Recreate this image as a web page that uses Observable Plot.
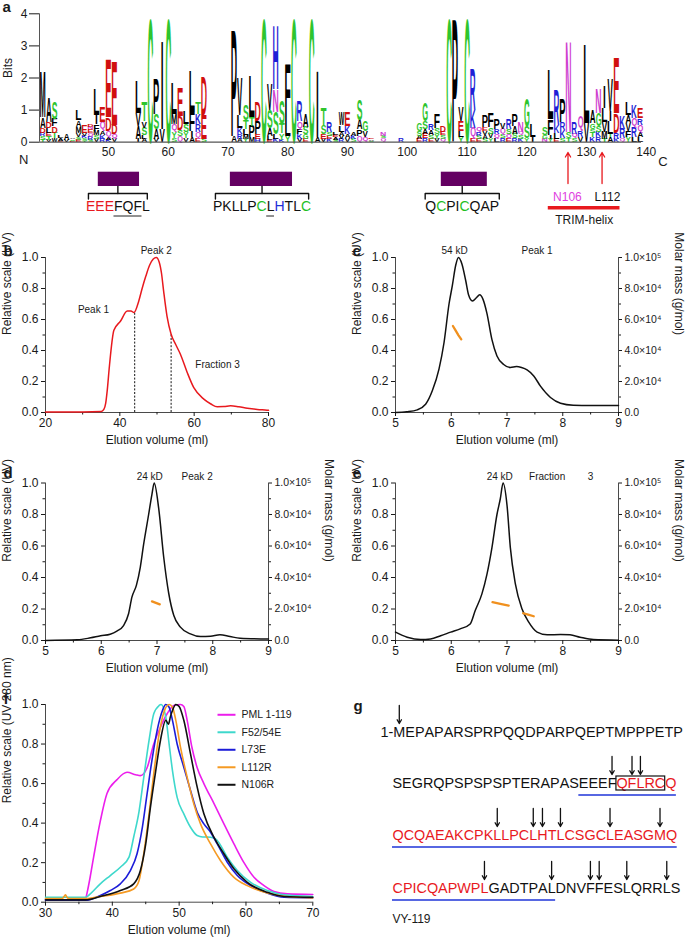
<!DOCTYPE html>
<html><head><meta charset="utf-8">
<script src="https://cdn.jsdelivr.net/npm/d3@7"></script>
<script src="https://cdn.jsdelivr.net/npm/@observablehq/plot@0.6"></script>
<style>
html,body{margin:0;padding:0;background:#fff;}
#fig{position:relative;width:685px;height:941px;overflow:hidden;background:#fff;}
</style></head>
<body><div id="fig"></div>
<script>
// ====================== DATA ======================
// --- Panel a: sequence logo (position, stack bottom->top "Letter+bits") ---
const logoTicks = [50, 60, 70, 80, 90, 100, 110, 120, 130, 140];
const logoPositions = [39,40,41,42,43,44,45,46,47,48,49,50,51,55,56,57,58,59,60,61,62,63,64,65,66,71,72,73,74,75,76,77,78,79,80,81,82,83,84,85,86,87,88,89,90,91,92,93,94,96,99,102,103,104,105,106,107,108,109,110,111,112,113,114,115,116,117,118,119,120,121,123,124,125,126,127,128,129,130,131,132,133,134,135,136,137,138,139];
const logoStacks = [
"T.08 S.1 R.12 D.15 A.32 M1.4","V.08 T.1 E.1 L.15 D.2 A.77","W.12 T.18 D.2 F.23 S.52","E.05 A.08 L.07","V.06 A.2","E.05 S.05 A.05",
"E.08 S.08 V.12 M.2 A.2 L.32","T.05 S.07 K.08 V.08 E.24","S.08 R.1 Q.12 E.1 N.08 D.09","V.1 S.12 M.14 F.2 I.3 L.8","R.1 K.12 A.12 Q.3 E.5",
"K.08 A.08 Q.2 D.41 E1.8","V.1 Q.15 D.3 E2.0","I.1 A.4 V.4 L1.02","A.1 L.12 S.23 V.2 T.6","C3.85","V.1 A.3 S.47 P1.1","V.4 I2.77","C3.85",
"S.12 Y.2 Q.25 M.3 L.95","Q.18 S.2 D.45 E.88","V.12 Y.2 S.25 L.42","A.15 I.2 F.6 L1.28","E.12 Q.2 R.25 K.3 T.38","S.1 E.75 D1.23",
"A.18 P3.3","A.1 R.15 K.2 L.4 V1.18","Y.1 M.12 L.2 T.28 S.5","M.15 P.35 T.28 L1.3","H.1 E.15 P.4 D.6","C3.85","E.08 L.12 A.25 S.55 V.8",
"K.1 L.15 S.7 N.7 H1.98","K.08 Y.2 T.3 S.72","Y.2 L.6 F1.64","C3.85","V.1 K.15 F.15 Q.25 R.65","E.1 G.15 S.23 A.4","C3.85","A.15 I2.08",
"V.1 E.15 S.27 T.55","K.1 E.1 S.12 R.3","S.08 A.08 E.07 L.08","R.1 V.1 A.13 L.2 W.4","V.12 A.13 K.25 E.43","S.1 K.1 A.1","Q.2 P.2 A.3 S.65",
"Q.15 V.2 G.33","S.05 A.05 E.05","Q.12 S.08 N.1","R.12","E.1 A.1 S.15 G.22","R.12 E.15 A.15 S.23 G.55","E.1 S.12 A.15 R.2","V.1 Y.15 S.2 F.43",
"Q.1 S.12 E.1 D.2","C3.85","P3.85","Y.15 L.2 E.3 V.45","C3.85","E.1 Q.35 K.55 R1.28","E.1 S.1 R.1 Q.17","S.1 A.12 V.12 E.12 P.37",
"Y.12 V.15 S.2 F.46","L.1 Q.15 R.15 P.33","R.12 S.12 Q.18 V.2","E.1 Q.15 S.15 R.33","R.12 S.15 A.25 P.36","K.1 S.12 Q.1 N.3","Y.12 S.35 G.88",
"I.17 L.4","N.1 G.12 S.25","Y.1 I.13 F.5 L1.55","E.1 L.18 K.25 R1.1","S.12 K.25 R.25 P.73","T.12 S.2 N2.85","S.12 Q.15 R.35","V.15 R.2 Q.48",
"V.6 L2.46","K.15 T.15 S.12 G.17 A.4","R.15 K.18 S.18 G.4 N.75","T.1 M.22 V.3 L.45 I.7","A.15 T.12 L.4 I.3 V1.0","K.1 R.2 D.6 E1.75",
"Q.12 R.3 K.41","Y.15 F.2 V.25 A.25 L.4","L.15 R.3 Q.3 K.4","L.15 A.15 Q.25 R.2 E.3"];
const purpleBoxStart = [48.3, 70.4, 105.7];
const purpleBoxEnd = [55.2, 80.8, 113.4];
const bracketStart = [46.65, 67.9, 103.0];
const bracketEnd = [56.5, 83.5, 115.4];
const motifSeqs = ["EEEFQFL", "PKLLPCLHTLC", "QCPICQAP"];
const motifColorCodes = ["rrrkkkk", "kkkkkgkbkkg", "kgkkgkkk"];
const motifUnderlined = ["0001110", "00000010000", "00000000"];
const helixArrowPos = [126.9, 132.6];
const helixLabels = ["N106", "L112"];
const helixLabelPos = [126.8, 133.5];
const helixLabelColors = ["#e040e0", "#111"];
const trimHelixSpan = [123.6, 135.6];
const terminiLabels = ["N", "C"];
const terminiPos = [35.8, 142.8];

// --- Panel b ---
const bX = [20,25,30,35,35.7,36.2,36.6,37.2,38.4,40.2,42,43,43.8,45.1,46,47,48,49,49.8,50.6,51.2,51.8,52.7,53.8,55,56.3,58.1,59.9,62.6,64.5,66.2,68,69.8,72,74.3,77,79.6,80];
const bY = [0.003,0.003,0.003,0.006,0.02,0.06,0.14,0.3,0.53,0.59,0.655,0.655,0.645,0.72,0.8,0.88,0.95,0.99,1.0,0.97,0.9,0.78,0.62,0.505,0.44,0.376,0.26,0.16,0.086,0.055,0.037,0.038,0.043,0.037,0.028,0.02,0.015,0.014];
const bCutX = [44.0, 53.8];
const bCutY = [0.645, 0.505];
const bNoteX = [49.8, 32.9, 66.3], bNoteY = [1.045, 0.665, 0.31], bNoteText = ["Peak 2", "Peak 1", "Fraction 3"];

// --- Panel c ---
const cX = [5,5.2,5.39,5.54,5.66,5.78,5.87,5.96,6.02,6.08,6.13,6.19,6.26,6.31,6.38,6.45,6.51,6.57,6.64,6.73,6.82,6.94,7.06,7.17,7.26,7.36,7.48,7.6,7.78,7.96,8.19,8.5,9];
const cY = [0,0.005,0.017,0.053,0.14,0.28,0.45,0.7,0.82,0.95,1.0,0.96,0.85,0.76,0.72,0.74,0.76,0.73,0.64,0.47,0.365,0.31,0.29,0.296,0.29,0.275,0.236,0.17,0.097,0.06,0.047,0.045,0.045];
const cMassX = [6.03, 6.08, 6.13, 6.18], cMassY = [55800, 52800, 49800, 47200], cMassSeg = [1,1,1,1];
const cNoteX = [6.06, 7.54], cNoteY = [1.045, 1.045], cNoteText = ["54 kD", "Peak 1"];

// --- Panel d ---
const dX = [5,5.57,5.81,5.99,6.16,6.28,6.4,6.49,6.55,6.63,6.7,6.76,6.85,6.91,6.95,7.03,7.12,7.21,7.3,7.42,7.6,7.78,7.96,8.13,8.31,8.49,9];
const dY = [0,0.004,0.017,0.03,0.04,0.06,0.095,0.17,0.275,0.35,0.465,0.61,0.8,0.93,1.0,0.84,0.53,0.3,0.16,0.085,0.042,0.025,0.027,0.036,0.025,0.015,0.01];
const dMassX = [6.91, 6.98, 7.05], dMassY = [24800, 23900, 22900], dMassSeg = [1,1,1];
const dNoteX = [6.87, 7.72], dNoteY = [1.04, 1.04], dNoteText = ["24 kD", "Peak 2"];

// --- Panel e ---
const eX = [5,5.21,5.45,5.63,5.81,5.99,6.16,6.34,6.43,6.55,6.64,6.73,6.82,6.88,6.93,7.0,7.06,7.15,7.27,7.39,7.54,7.72,7.96,8.13,8.31,8.55,9];
const eY = [0.053,0.021,0.006,0.01,0.03,0.053,0.074,0.105,0.19,0.296,0.42,0.59,0.8,0.9,1.0,0.86,0.59,0.36,0.2,0.116,0.053,0.036,0.038,0.036,0.021,0.006,0.002];
const eMassX = [6.74, 6.88, 7.03, 7.29, 7.38, 7.48], eMassY = [24300, 23300, 22200, 17300, 16400, 15400], eMassSeg = [1,1,1,2,2,2];
const eNoteX = [6.87, 7.72, 8.5], eNoteY = [1.04, 1.04, 1.04], eNoteText = ["24 kD", "Fraction", "3"];
const massAxisMax = 1e5;

// --- Panel f ---
const fNames = ["PML 1-119", "F52/54E", "L73E", "L112R", "N106R"];
const fColors = ["#ec1eec", "#3ed8cc", "#1c1cd8", "#f59a23", "#111111"];
const fX = [
 [30,33,35.5,36,36.3,36.7,37.2,38.2,39.2,40.7,42.2,43.5,44.2,45.2,46.2,47.2,48.2,49.2,50.2,50.7,51.2,51.9,52.7,53.7,55.2,56.7,58.2,59.7,61.2,62.7,64.2,66.2,70],
 [30,36,36.7,38.2,39.7,41.2,42.5,43.2,44,44.7,45.5,46.2,47,47.3,48,48.5,49,49.7,50.7,51.7,52.7,53.5,54.2,55.2,55.7,57.2,58.7,60.7,63.2,65.7,70],
 [30,36,38.2,39.7,41.2,42.7,43.7,44.5,45.2,46,46.7,47.5,48,48.5,49,49.7,50.7,51.7,52.7,53.7,54.7,55.7,57.2,58.7,60.7,63.2,65.7,70],
 [30,32.5,32.8,33,33.2,33.5,36,38.2,41.2,43.2,44,44.7,45.5,46.2,47,47.7,48.5,49,49.5,50.2,51.2,52.2,53.2,54.7,56.2,58.2,60.2,63.2,65.7,70],
 [30,36,38.2,41.2,43.2,44.2,45,45.7,46.5,47.2,48,48.4,48.7,49,49.5,50,50.7,51.7,52.7,53.7,55.2,56.7,58.2,60.2,63.2,65.7,70]];
const fY = [
 [0.012,0.012,0.013,0.02,0.06,0.13,0.228,0.41,0.55,0.62,0.657,0.645,0.64,0.68,0.8,0.885,0.953,0.995,1.0,0.99,0.92,0.785,0.68,0.6,0.5,0.396,0.295,0.2,0.126,0.084,0.054,0.042,0.039],
 [0.025,0.025,0.042,0.093,0.135,0.177,0.228,0.33,0.46,0.63,0.82,0.953,0.995,1.0,0.936,0.8,0.666,0.53,0.447,0.379,0.337,0.33,0.33,0.325,0.312,0.228,0.16,0.1,0.059,0.037,0.029],
 [0.01,0.01,0.034,0.059,0.093,0.16,0.245,0.38,0.548,0.733,0.868,0.97,1.0,0.986,0.92,0.8,0.683,0.565,0.455,0.396,0.354,0.295,0.202,0.135,0.084,0.046,0.025,0.022],
 [0.018,0.018,0.03,0.037,0.025,0.018,0.018,0.029,0.046,0.067,0.11,0.245,0.447,0.65,0.85,0.96,1.0,0.986,0.92,0.784,0.632,0.497,0.396,0.295,0.21,0.126,0.084,0.047,0.03,0.022],
 [0.012,0.012,0.029,0.059,0.093,0.16,0.295,0.48,0.666,0.818,0.92,0.9,0.94,0.97,1.0,0.99,0.92,0.75,0.582,0.447,0.329,0.245,0.169,0.1,0.05,0.029,0.025]];

// --- Panel g ---
const gLinePrefix = ["1-", "", "", ""];
const gLines = ["MEPAPARSPRPQQDPARPQEPTMPPPETP", "SEGRQPSPSPSPTERAPASEEEFQFLRCQ", "QCQAEAKCPKLLPCLHTLCSGCLEASGMQ", "CPICQAPWPLGADTPALDNVFFESLQRRLS"];
const gLineFirstResidue = [1, 30, 59, 88];
const gRedResidues = [53, 97];
const gBoxResidues = [53, 57];
const gUnderlineResidues = [49, 104];
const gArrowResidues = [1, 52, 54, 55, 69, 73, 74, 76, 81, 86, 97, 104, 108, 109, 112, 116];
const gFootnote = "VY-119";

// ====================== RENDER ======================
const FONT = '"Liberation Sans", Arial, Helvetica, sans-serif';
const CFONT = "'Liberation Sans'";
const AX = "#4a4a4a";
const RED = "#e8191e", ORANGE = "#f0901e", PURPLE = "#640062";
const fmt1 = d3.format(".1f");
const fig = document.getElementById("fig");
const ctx = document.createElement("canvas").getContext("2d");
const zip = (xs, ys) => xs.map((x, i) => ({x, y: ys[i]}));

function st(left, top) {
  return {position: "absolute", left: left + "px", top: top + "px", background: "none",
    overflow: "visible", fontFamily: FONT, fontSize: "12px", color: "#1a1a1a", maxWidth: "none"};
}
function charLayout(str, font) {
  ctx.font = font; let acc = 0;
  return [...str].map(ch => { const w = ctx.measureText(ch).width; const o = {ch, left: acc, w, center: acc + w / 2}; acc += w; return o; });
}
const aaColor = {};
"AVLIPWFM".split("").forEach(c => aaColor[c] = "#000");
"GSTYC".split("").forEach(c => aaColor[c] = "#2ec52e");
"KRH".split("").forEach(c => aaColor[c] = "#1f1fd6");
"DE".split("").forEach(c => aaColor[c] = "#d10f0f");
"NQ".split("").forEach(c => aaColor[c] = "#cf3fcf");

// ---------- Panel a: logo ----------
const LOGO_ML = 39, LOGO_MR = 44, LOGO_W = 685;
const logoXDomain = [38.46, 139.2];
const logoData = [];
logoPositions.forEach((p, i) => {
  let y0 = 0;
  for (const tok of logoStacks[i].split(" ")) {
    const h = +tok.slice(1);
    logoData.push({pos: p, letter: tok[0], y0, y1: y0 + h, color: aaColor[tok[0]]});
    y0 += h;
  }
});
const logo = Plot.plot({
  width: LOGO_W, height: 160, marginLeft: LOGO_ML, marginRight: LOGO_MR, marginTop: 13.3, marginBottom: 18.3,
  x: {domain: logoXDomain}, y: {domain: [0, 4]}, color: {type: "identity"},
  style: st(0, 0),
  marks: [
    Plot.text(logoData, {x: "pos", y: "y0", text: "letter", fill: "color", textAnchor: "start", fontWeight: "bold", fontSize: 20}),
    Plot.ruleY([0], {stroke: "#555", strokeWidth: 1.3}),
    Plot.ruleX([logoXDomain[0]], {y1: 0, y2: 4, stroke: "#555"}),
    Plot.axisY([0, 1, 2, 3, 4], {tickSize: 10, tickPadding: 2, label: null, fontSize: 12}),
    Plot.axisX(logoTicks, {tickSize: 0, tickPadding: 5, label: null, fontSize: 12}),
    Plot.text(["Bits"], {frameAnchor: "left", rotate: -90, dx: -31, fontSize: 12}),
    Plot.text(["a"], {frameAnchor: "top-left", textAnchor: "start", lineAnchor: "bottom", dx: -37, dy: -2, fontSize: 15, fontWeight: "bold"})
  ]
});
(function stretchLogo() {
  const xs = logo.scale("x"), ys = logo.scale("y");
  const colPx = Math.abs(xs.apply(1) - xs.apply(0));
  ctx.font = "bold 20px " + CFONT;
  // the letter group is the one holding exactly one <text> per logo letter
  const group = [...logo.querySelectorAll("g")].find(g => g.children.length === logoData.length && [...g.children].every(c => c.tagName.toLowerCase() === "text"));
  if (!group) return;
  [...group.children].forEach((el, i) => {
    const d = logoData[i];
    const m = ctx.measureText(d.letter);
    const L = m.actualBoundingBoxLeft, R = m.actualBoundingBoxRight, A = m.actualBoundingBoxAscent, D = m.actualBoundingBoxDescent;
    const cw = colPx * (d.letter === "I" ? 0.34 : 0.94);
    const xl = xs.apply(d.pos) - cw / 2;
    const yb = ys.apply(d.y0), H = yb - ys.apply(d.y1);
    el.removeAttribute("dy");
    el.setAttribute("x", 0); el.setAttribute("y", 0);
    el.setAttribute("transform", `translate(${xl},${yb}) scale(${cw / (L + R)},${H / (A + D)}) translate(${L},${-D})`);
  });
})();
fig.appendChild(logo);

// ---------- Panel a: annotations below the logo ----------
const pxPerPos = (LOGO_W - LOGO_ML - LOGO_MR) / (logoXDomain[1] - logoXDomain[0]);
const ROW = {tip: 12, base: 43, boxTop: 31.7, boxBot: 46, brTop: 53, brFoot: 58.5, seq: 66.5, seqUL: 75.5, hLabel: 57, bar: 67.3, trim: 79.5, N: 19.7, C: 21.3};
const boxes = purpleBoxStart.map((s, i) => ({x1: s, x2: purpleBoxEnd[i]}));
const bracketPts = [];
bracketStart.forEach((s, i) => {
  const e = bracketEnd[i], mid = (s + e) / 2;
  bracketPts.push({x: s, y: ROW.brFoot, z: "b" + i}, {x: s, y: ROW.brTop, z: "b" + i}, {x: e, y: ROW.brTop, z: "b" + i}, {x: e, y: ROW.brFoot, z: "b" + i});
  bracketPts.push({x: mid, y: ROW.brTop, z: "s" + i}, {x: mid, y: ROW.boxBot, z: "s" + i});
});
const codeColor = {r: RED, k: "#111", g: "#1fc01f", b: "#1f2fd8"};
const motifChars = [], motifUL = [];
motifSeqs.forEach((seq, i) => {
  const lay = charLayout(seq, "14px " + CFONT);
  const total = lay.reduce((a, c) => a + c.w, 0);
  const center = (bracketStart[i] + bracketEnd[i]) / 2;
  lay.forEach((c, k) => {
    motifChars.push({x: center + (c.center - total / 2) / pxPerPos, ch: c.ch, color: codeColor[motifColorCodes[i][k]]});
    if (motifUnderlined[i][k] === "1") {
      const x1 = center + (c.left - total / 2) / pxPerPos, x2 = center + (c.left + c.w - total / 2) / pxPerPos;
      const last = motifUL[motifUL.length - 1];
      if (last && last.seg === i && Math.abs(last.x2 - x1) < 1e-6) last.x2 = x2; else motifUL.push({seg: i, x1, x2});
    }
  });
});
const anno = Plot.plot({
  width: LOGO_W, height: 95, marginLeft: LOGO_ML, marginRight: LOGO_MR, marginTop: 0, marginBottom: 0,
  x: {domain: logoXDomain, axis: null}, y: {domain: [95, 0], axis: null}, color: {type: "identity"},
  style: st(0, 140),
  marks: [
    Plot.rect(boxes, {x1: "x1", x2: "x2", y1: ROW.boxTop, y2: ROW.boxBot, fill: PURPLE}),
    Plot.line(bracketPts, {x: "x", y: "y", z: "z", stroke: "#111", strokeWidth: 1.4}),
    Plot.text(motifChars, {x: "x", y: ROW.seq, text: "ch", fill: "color", fontSize: 14}),
    Plot.ruleY(motifUL, {x1: "x1", x2: "x2", y: ROW.seqUL, stroke: "#222", strokeWidth: 1}),
    Plot.arrow(helixArrowPos, {x1: d => d, x2: d => d, y1: ROW.base, y2: ROW.tip, stroke: RED, strokeWidth: 1.3, headLength: 6}),
    Plot.text(helixLabels, {x: (d, i) => helixLabelPos[i], y: ROW.hLabel, text: d => d, fill: (d, i) => helixLabelColors[i], fontSize: 12}),
    Plot.ruleY([trimHelixSpan], {x1: d => d[0], x2: d => d[1], y: ROW.bar, stroke: RED, strokeWidth: 3.6}),
    Plot.text(["TRIM-helix"], {x: (trimHelixSpan[0] + trimHelixSpan[1]) / 2, y: ROW.trim, fontSize: 12}),
    Plot.text(terminiLabels, {x: (d, i) => terminiPos[i], y: (d, i) => i ? ROW.C : ROW.N, text: d => d, fontSize: 13})
  ]
});
fig.appendChild(anno);

// ---------- chromatogram panels ----------
const yMajor = [0, 0.2, 0.4, 0.6, 0.8, 1.0];
const yMinor = [0.1, 0.3, 0.5, 0.7, 0.9];
const supDigits = "⁰¹²³⁴⁵⁶⁷⁸⁹";
function massFmt(v) {
  const m = v * massAxisMax;
  if (m < 1) return "0.0";
  const e = Math.floor(Math.log10(m) + 1e-9);
  return (m / 10 ** e).toFixed(1) + "×10" + String(e).split("").map(c => supDigits[+c]).join("");
}
function chrom(o) {
  const [left, top, width, height] = o.box;
  const marks = [
    Plot.ruleY([0], {stroke: AX}),
    Plot.ruleX([o.xDomain[0]], {y1: 0, y2: 1, stroke: AX}),
    Plot.axisX(o.xMajor, {tickSize: 4, tickPadding: 2, label: null, fontSize: 12}),
    Plot.axisX(o.xMinor, {tickSize: 2.5, tickFormat: () => "", label: null}),
    Plot.axisY(yMajor, {tickSize: 4, tickPadding: 3, tickFormat: fmt1, label: null, fontSize: 12}),
    Plot.axisY(yMinor, {tickSize: 2.5, tickFormat: () => "", label: null}),
    Plot.text([o.xTitle], {frameAnchor: "bottom", dy: o.xTitleDy, fontSize: 12}),
    Plot.text([o.yTitle], {frameAnchor: "left", rotate: -90, dx: o.yTitleDx, fontSize: 12}),
    Plot.text([o.letter], {frameAnchor: "top-left", textAnchor: "start", lineAnchor: "bottom", dx: o.letterDx, dy: o.letterDy, fontSize: 15, fontWeight: "bold"})
  ];
  if (o.right) marks.push(
    Plot.ruleX([o.xDomain[1]], {y1: 0, y2: 1, stroke: AX}),
    Plot.axisY(yMajor, {anchor: "right", tickSize: 3, tickPadding: 3, tickFormat: massFmt, label: null, fontSize: 10.5}),
    Plot.axisY(yMinor, {anchor: "right", tickSize: 2, tickFormat: () => "", label: null}),
    Plot.text(["Molar mass (g/mol)"], {frameAnchor: "right", rotate: 90, dx: 60, fontSize: 12})
  );
  return Plot.plot({
    width, height, marginLeft: o.m[0], marginRight: o.m[1], marginTop: o.m[2], marginBottom: o.m[3],
    x: {domain: o.xDomain}, y: {domain: [0, 1]}, color: {type: "identity"},
    style: st(left, top),
    marks: [...marks, ...o.marks]
  });
}
const notes = (xs, ys, ts) => xs.map((x, i) => ({x, y: ys[i], t: ts[i]}));
const mass = (xs, ms, seg) => xs.map((x, i) => ({x, y: ms[i] / massAxisMax, seg: seg[i]}));
const noteMark = (d) => Plot.text(d, {x: "x", y: "y", text: "t", fontSize: 10});
const massMark = (d) => Plot.line(d, {x: "x", y: "y", z: "seg", stroke: ORANGE, strokeWidth: 2.3});
const smallX = {xDomain: [5, 9], xMajor: [5, 6, 7, 8, 9], xMinor: [5.5, 6.5, 7.5, 8.5], xTitle: "Elution volume (ml)", yTitle: "Relative scale (UV)"};

fig.appendChild(chrom({
  box: [0, 230, 345, 230], m: [45, 77, 27, 48], xDomain: [20, 80], xMajor: [20, 40, 60, 80], xMinor: [30, 50, 70],
  xTitle: "Elution volume (ml)", yTitle: "Relative scale (UV)", xTitleDy: 31, yTitleDx: -38, letter: "b", letterDx: -42, letterDy: -2,
  marks: [
    Plot.ruleX(zip(bCutX, bCutY), {x: "x", y1: 0, y2: "y", stroke: "#111", strokeDasharray: "2,1.6", strokeWidth: 1}),
    Plot.line(zip(bX, bY), {x: "x", y: "y", stroke: RED, strokeWidth: 1.5, curve: "monotone-x"}),
    noteMark(notes(bNoteX, bNoteY, bNoteText))
  ]
}));
fig.appendChild(chrom({
  ...smallX, box: [345, 230, 340, 230], m: [50, 67, 27, 48], right: true,
  xTitleDy: 31, yTitleDx: -38, letter: "c", letterDx: -43, letterDy: -2,
  marks: [
    Plot.line(zip(cX, cY), {x: "x", y: "y", stroke: "#111", strokeWidth: 1.5, curve: "monotone-x"}),
    massMark(mass(cMassX, cMassY, cMassSeg)),
    noteMark(notes(cNoteX, cNoteY, cNoteText))
  ]
}));
fig.appendChild(chrom({
  ...smallX, box: [0, 455, 345, 230], m: [45, 77, 27.5, 45], right: true,
  xTitleDy: 31, yTitleDx: -38, letter: "d", letterDx: -42, letterDy: -5.5,
  marks: [
    Plot.line(zip(dX, dY), {x: "x", y: "y", stroke: "#111", strokeWidth: 1.5, curve: "monotone-x"}),
    massMark(mass(dMassX, dMassY, dMassSeg)),
    noteMark(notes(dNoteX, dNoteY, dNoteText))
  ]
}));
fig.appendChild(chrom({
  ...smallX, box: [345, 455, 340, 230], m: [50, 67, 27.5, 45], right: true,
  xTitleDy: 31, yTitleDx: -38, letter: "e", letterDx: -43, letterDy: -5.5,
  marks: [
    Plot.line(zip(eX, eY), {x: "x", y: "y", stroke: "#111", strokeWidth: 1.5, curve: "monotone-x"}),
    massMark(mass(eMassX, eMassY, eMassSeg)),
    noteMark(notes(eNoteX, eNoteY, eNoteText))
  ]
}));

// ---------- Panel f ----------
const fLong = [];
fNames.forEach((name, s) => fX[s].forEach((x, i) => fLong.push({series: name, color: fColors[s], x, y: fY[s][i]})));
const fLegend = fNames.map((name, i) => ({name, color: fColors[i], y: 0.948 - i * 0.0885}));
fig.appendChild(chrom({
  box: [0, 680, 345, 261], m: [45, 32.7, 24, 39.3], xDomain: [30, 70], xMajor: [30, 40, 50, 60, 70], xMinor: [35, 45, 55, 65],
  xTitle: "Elution volume (ml)", yTitle: "Relative scale (UV 280 nm)", xTitleDy: 31.5, yTitleDx: -38, letter: "f", letterDx: -42, letterDy: -1,
  marks: [
    Plot.line(fLong, {x: "x", y: "y", z: "series", stroke: "color", strokeWidth: 1.6, curve: "monotone-x"}),
    Plot.link(fLegend, {x1: 55.74, x2: 58.43, y1: "y", y2: "y", stroke: "color", strokeWidth: 2}),
    Plot.text(fLegend, {x: 59.33, y: "y", text: "name", textAnchor: "start", fontSize: 10.5})
  ]
}));

// ---------- Panel g ----------
const gRowY = [52, 103, 155, 208];
const gLineStart = [35, 47, 47, 47];
const gChars = [], resInfo = {};
gLines.forEach((seq, li) => {
  const pre = gLinePrefix[li];
  const lay = charLayout(pre + seq, "14.4px " + CFONT);
  lay.forEach((c, k) => {
    const res = k >= pre.length ? gLineFirstResidue[li] + k - pre.length : null;
    const red = res !== null && res >= gRedResidues[0] && res <= gRedResidues[1];
    const x = gLineStart[li] + c.center;
    gChars.push({ch: c.ch, x, y: gRowY[li], color: red ? RED : "#111"});
    if (res !== null) resInfo[res] = {x, left: gLineStart[li] + c.left, right: gLineStart[li] + c.left + c.w, line: li};
  });
});
const gArrows = gArrowResidues.map(r => ({x: resInfo[r].x, y: gRowY[resInfo[r].line]}));
const gUL = [];
for (let r = gUnderlineResidues[0]; r <= gUnderlineResidues[1]; r++) {
  const info = resInfo[r], last = gUL[gUL.length - 1];
  if (last && last.line === info.line) last.x2 = info.right; else gUL.push({line: info.line, x1: info.left, x2: info.right, y: gRowY[info.line]});
}
const gBox = [{x1: resInfo[gBoxResidues[0]].left, x2: resInfo[gBoxResidues[1]].right, y: gRowY[resInfo[gBoxResidues[0]].line]}];
fig.appendChild(Plot.plot({
  width: 340, height: 261, marginLeft: 0, marginRight: 0, marginTop: 0, marginBottom: 0,
  x: {domain: [0, 340], axis: null}, y: {domain: [261, 0], axis: null}, color: {type: "identity"},
  style: st(345, 680),
  marks: [
    Plot.text(gChars, {x: "x", y: "y", text: "ch", fill: "color", fontSize: 14.4}),
    Plot.arrow(gArrows, {x1: "x", x2: "x", y1: d => d.y - 27, y2: d => d.y - 9, stroke: "#111", strokeWidth: 1.3, headLength: 5}),
    Plot.rect(gBox, {x1: "x1", x2: "x2", y1: d => d.y - 7, y2: d => d.y + 7, fill: "none", stroke: "#111", strokeWidth: 1.2}),
    Plot.ruleY(gUL, {x1: "x1", x2: "x2", y: d => d.y + 11.5, stroke: "#1f35d8", strokeWidth: 1.6}),
    Plot.text([gFootnote], {x: gLineStart[1], y: 239, textAnchor: "start", fontSize: 12}),
    Plot.text(["g"], {x: 8, y: 26, textAnchor: "start", fontSize: 15, fontWeight: "bold"})
  ]
}));
</script>
</body></html>
